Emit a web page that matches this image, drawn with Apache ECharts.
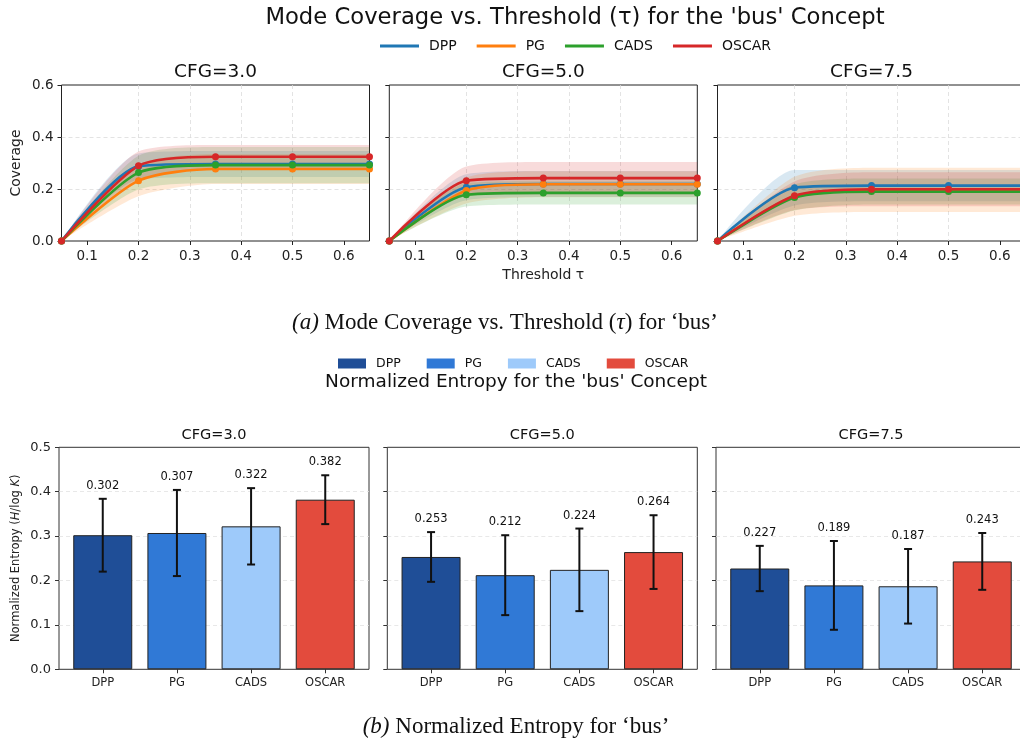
<!DOCTYPE html>
<html>
<head>
<meta charset="utf-8">
<script src="https://cdn.jsdelivr.net/npm/echarts@6/dist/echarts.min.js"></script>
<style>
  html, body { margin: 0; padding: 0; background: #fff; }
  #chart { width: 1020px; height: 745px; }
</style>
</head>
<body>
<div id="chart"></div>
<script>
// data
var methods = ['DPP', 'PG', 'CADS', 'OSCAR'];
var cfgLabels = ['CFG=3.0', 'CFG=5.0', 'CFG=7.5'];
var taus = [0.05, 0.2, 0.35, 0.5, 0.65];
var tauTicks = [0.1, 0.2, 0.3, 0.4, 0.5, 0.6];

// coverage per method (DPP, PG, CADS, OSCAR) at each tau
var covCfg3 = [
  [0, 0.287, 0.296, 0.296, 0.296],
  [0, 0.232, 0.277, 0.277, 0.277],
  [0, 0.263, 0.292, 0.292, 0.292],
  [0, 0.289, 0.324, 0.324, 0.324]
];
var covCfg5 = [
  [0, 0.207, 0.219, 0.219, 0.219],
  [0, 0.194, 0.218, 0.218, 0.218],
  [0, 0.178, 0.185, 0.185, 0.185],
  [0, 0.232, 0.242, 0.242, 0.242]
];
var covCfg75 = [
  [0, 0.205, 0.213, 0.213, 0.213],
  [0, 0.172, 0.197, 0.197, 0.197],
  [0, 0.167, 0.190, 0.190, 0.190],
  [0, 0.174, 0.199, 0.199, 0.199]
];
// spread (std) of the shaded bands
var stdCfg3 = [
  [0, 0.050, 0.050, 0.050, 0.050],
  [0, 0.060, 0.058, 0.058, 0.058],
  [0, 0.065, 0.070, 0.070, 0.070],
  [0, 0.055, 0.045, 0.045, 0.045]
];
var stdCfg5 = [
  [0, 0.050, 0.050, 0.050, 0.050],
  [0, 0.050, 0.050, 0.050, 0.050],
  [0, 0.045, 0.045, 0.045, 0.045],
  [0, 0.055, 0.062, 0.062, 0.062]
];
var stdCfg75 = [
  [0, 0.068, 0.060, 0.060, 0.060],
  [0, 0.075, 0.085, 0.085, 0.085],
  [0, 0.050, 0.050, 0.050, 0.050],
  [0, 0.055, 0.065, 0.065, 0.065]
];

// normalized entropy, mean and error
var entCfg3 = [0.302, 0.307, 0.322, 0.382];
var errCfg3 = [0.082, 0.097, 0.086, 0.055];
var entCfg5 = [0.253, 0.212, 0.224, 0.264];
var errCfg5 = [0.056, 0.090, 0.093, 0.083];
var entCfg75 = [0.227, 0.189, 0.187, 0.243];
var errCfg75 = [0.051, 0.100, 0.084, 0.064];

var lineColors = ['#1f77b4', '#ff7f0e', '#2ca02c', '#d62728'];
var barColors = ['#1f4e97', '#3079d6', '#9ecafa', '#e34b3d'];

var covAll = [covCfg3, covCfg5, covCfg75];
var stdAll = [stdCfg3, stdCfg5, stdCfg75];
var entAll = [entCfg3, entCfg5, entCfg75];
var errAll = [errCfg3, errCfg5, errCfg75];

var topLefts = [61.5, 389.3, 717.5];
var botLefts = [59, 387.3, 716];
var FONT = 'DejaVu Sans';
var SPLIT = { show: true, showMinLine: false, showMaxLine: false,
  lineStyle: { color: '#dcdcdc', type: [4, 3], width: 0.8 } };

var grids = [], xAxes = [], yAxes = [], series = [];

// ---- top: coverage lines ----
covAll.forEach(function (cov, p) {
  grids.push({ left: topLefts[p], top: 85, width: 308, height: 156, show: true,
    borderColor: '#222', borderWidth: 1, outerBoundsMode: 'none' });
  xAxes.push({
    type: 'value', gridIndex: p, min: 0.05, max: 0.65,
    axisLine: { show: false, onZero: false },
    axisTick: { show: true, length: 4, customValues: tauTicks, lineStyle: { color: '#222' } },
    axisLabel: { customValues: tauTicks, margin: 8, fontSize: 13.5, color: '#222',
      formatter: function (v) { return v.toFixed(1); } },
    splitLine: SPLIT,
    name: p === 1 ? 'Threshold τ' : '', nameLocation: 'middle', nameGap: 27,
    nameTextStyle: { fontSize: 14, color: '#222' }
  });
  yAxes.push({
    type: 'value', gridIndex: p, min: 0, max: 0.6, interval: 0.2,
    axisLine: { show: false, onZero: false },
    axisTick: { show: true, length: 4, lineStyle: { color: '#222' } },
    axisLabel: { show: p === 0, margin: 8, fontSize: 13.5, color: '#222',
      formatter: function (v) { return v.toFixed(1); } },
    splitLine: SPLIT,
    name: p === 0 ? 'Coverage' : '', nameLocation: 'middle', nameGap: 38,
    nameTextStyle: { fontSize: 14, color: '#222' }
  });
  // bands: columns are [y, x] so the stack runs on the y values
  cov.forEach(function (vals, m) {
    var sd = stdAll[p][m];
    var lo = taus.map(function (t, i) { return [vals[i] - sd[i], t]; });
    var span = taus.map(function (t, i) { return [2 * sd[i], t]; });
    var st = 'band' + p + '_' + m;
    series.push({ type: 'line', name: 'lo' + st, xAxisIndex: p, yAxisIndex: p, stack: st,
      encode: { x: 1, y: 0 }, data: lo, smooth: 0.25, symbol: 'none', silent: true, z: 1,
      lineStyle: { opacity: 0 } });
    series.push({ type: 'line', name: 'hi' + st, xAxisIndex: p, yAxisIndex: p, stack: st,
      encode: { x: 1, y: 0 }, data: span, smooth: 0.25, symbol: 'none', silent: true, z: 1,
      lineStyle: { opacity: 0 }, areaStyle: { color: lineColors[m], opacity: 0.17 } });
  });
  // lines
  cov.forEach(function (vals, m) {
    series.push({ type: 'line', name: methods[m], xAxisIndex: p, yAxisIndex: p,
      data: taus.map(function (t, i) { return [t, vals[i]]; }),
      smooth: 0.25, symbol: 'circle', symbolSize: 7, showSymbol: true, z: 3,
      color: lineColors[m], itemStyle: { color: lineColors[m] },
      lineStyle: { width: 2.6, color: lineColors[m] } });
  });
});

// ---- bottom: entropy bars ----
entAll.forEach(function (ent, p) {
  var g = 3 + p;
  grids.push({ left: botLefts[p], top: 447.3, width: 310, height: 222, show: true,
    borderColor: '#333', borderWidth: 1, outerBoundsMode: 'none' });
  xAxes.push({
    type: 'value', gridIndex: g, min: -0.59, max: 3.59,
    axisLine: { show: false, onZero: false },
    axisTick: { show: true, length: 4, customValues: [0, 1, 2, 3], lineStyle: { color: '#333' } },
    axisLabel: { customValues: [0, 1, 2, 3], margin: 8, fontSize: 11.5, color: '#222',
      formatter: function (v) { return methods[Math.round(v)]; } },
    splitLine: { show: false }
  });
  yAxes.push({
    type: 'value', gridIndex: g, min: 0, max: 0.5, interval: 0.1,
    axisLine: { show: false, onZero: false },
    axisTick: { show: true, length: 4, lineStyle: { color: '#333' } },
    axisLabel: { show: p === 0, margin: 8, fontSize: 13, color: '#222',
      formatter: function (v) { return v.toFixed(1); } },
    splitLine: { show: true, showMinLine: false, showMaxLine: false,
      lineStyle: { color: '#e2e2e2', type: [4, 3], width: 0.8 } },
    name: p === 0 ? 'Normalized Entropy ({i|H}/log {i|K})' : '', nameLocation: 'middle', nameGap: 37,
    nameTextStyle: { fontSize: 11.5, color: '#222',
      rich: { i: { fontStyle: 'italic', fontSize: 11.5, color: '#222' } } }
  });
  series.push({
    type: 'bar', name: 'entropy' + p, xAxisIndex: g, yAxisIndex: g, barWidth: 59, z: 2,
    data: ent.map(function (v, i) {
      return { value: [i, v], itemStyle: { color: barColors[i], borderColor: '#222', borderWidth: 1 } };
    })
  });
  series.push({
    type: 'custom', name: 'err' + p, xAxisIndex: g, yAxisIndex: g, z: 4, silent: true,
    encode: { x: 0, y: 1 },
    data: ent.map(function (v, i) { return [i, v, errAll[p][i]]; }),
    renderItem: function (params, api) {
      var x = api.value(0), m = api.value(1), e = api.value(2);
      var hi = api.coord([x, m + e]), lo = api.coord([x, m - e]);
      var cap = 4;
      var ls = { stroke: '#111', lineWidth: 2 };
      return { type: 'group', children: [
        { type: 'line', shape: { x1: hi[0], y1: hi[1], x2: lo[0], y2: lo[1] }, style: ls },
        { type: 'line', shape: { x1: hi[0] - cap, y1: hi[1], x2: hi[0] + cap, y2: hi[1] }, style: ls },
        { type: 'line', shape: { x1: lo[0] - cap, y1: lo[1], x2: lo[0] + cap, y2: lo[1] }, style: ls },
        { type: 'text', x: hi[0], y: hi[1] - 7,
          style: { text: m.toFixed(3), align: 'center', verticalAlign: 'bottom',
            font: '11.5px "DejaVu Sans"', fill: '#111' } }
      ] };
    }
  });
});

function txt(x, y, text, size, extra) {
  var st = { text: text, font: size + 'px "DejaVu Sans"', fill: '#111', align: 'center', verticalAlign: 'middle' };
  if (extra) Object.keys(extra).forEach(function (k) { st[k] = extra[k]; });
  return { type: 'text', x: x, y: y, style: st, z: 10 };
}
var serifRich = { i: { font: 'italic 23px "Liberation Serif"', fill: '#111' } };
var graphics = [
  txt(575, 18, "Mode Coverage vs. Threshold (τ) for the 'bus' Concept", 22.7),
  txt(516, 382, "Normalized Entropy for the 'bus' Concept", 18.5),
  txt(505, 323, '{i|(a)} Mode Coverage vs. Threshold ({i|τ}) for ‘bus’', 23,
    { font: '23px "Liberation Serif"', rich: serifRich }),
  txt(516, 727, '{i|(b)} Normalized Entropy for ‘bus’', 23,
    { font: '23px "Liberation Serif"', rich: serifRich })
];
cfgLabels.forEach(function (lab, p) {
  graphics.push(txt(topLefts[p] + 154, 72, lab, 18.5));
  graphics.push(txt(botLefts[p] + 155, 435, lab, 14.5));
});

var option = {
  animation: false,
  backgroundColor: '#fff',
  textStyle: { fontFamily: FONT },
  legend: [
    {
      data: methods, left: 375, top: 34, icon: 'rect', itemWidth: 39, itemHeight: 3, itemGap: 20,
      textStyle: { fontSize: 14, color: '#111', padding: [0, 0, 0, 5] }
    },
    {
      data: methods.map(function (n, i) { return { name: n, itemStyle: { color: barColors[i], borderWidth: 0 } }; }),
      left: 333, top: 352, icon: 'rect', itemWidth: 28, itemHeight: 10, itemGap: 26,
      textStyle: { fontSize: 12.5, color: '#111', padding: [0, 0, 0, 5] }
    }
  ],
  grid: grids,
  xAxis: xAxes,
  yAxis: yAxes,
  series: series,
  graphic: graphics
};

var myChart = echarts.init(document.getElementById('chart'));
myChart.setOption(option);
window.addEventListener('resize', function () {
  myChart.resize();
});
</script>
</body>
</html>
